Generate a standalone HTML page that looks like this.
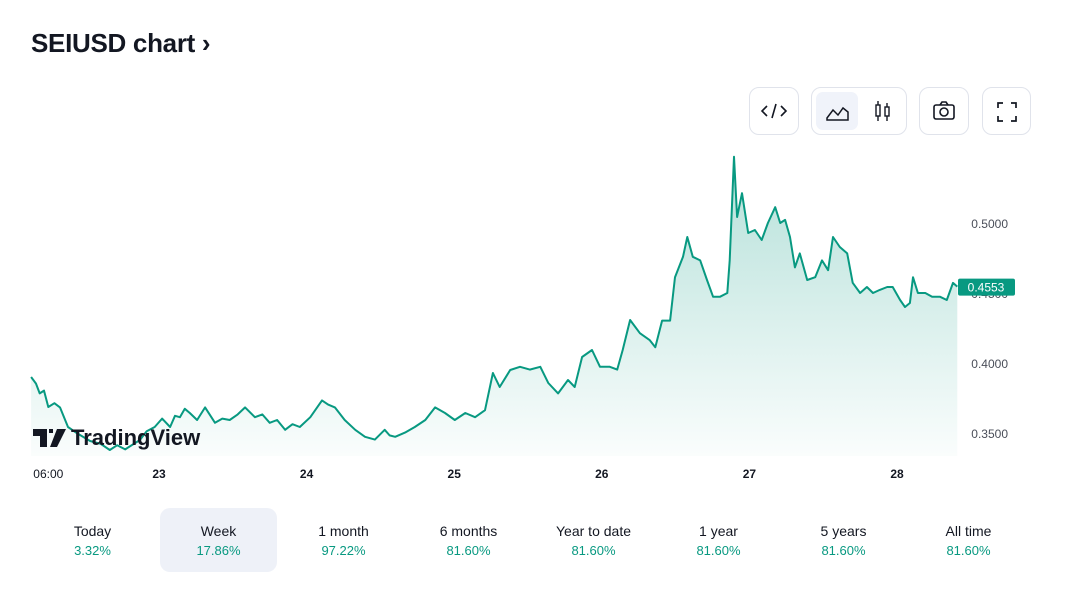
<!DOCTYPE html>
<html><head><meta charset="utf-8">
<style>
body{margin:0;width:1068px;height:601px;background:#fff;font-family:"Liberation Sans",sans-serif;color:#131722;position:relative;overflow:hidden}
.title{position:absolute;left:31px;top:28px;font-size:26px;font-weight:bold;letter-spacing:-0.3px}
.btn{position:absolute;top:87px;height:48px;border:1px solid #e0e3eb;border-radius:10px;box-sizing:border-box;background:#fff}
.tab{position:absolute;top:508px;width:117px;height:64px;border-radius:10px;text-align:center}
.tab .l{margin-top:15px;font-size:14px;color:#131722}
.tab .p{margin-top:4px;font-size:13px;color:#089981}
</style></head><body>
<div class="title">SEIUSD chart ›</div>
<div class="btn" style="left:749px;width:50px">
<svg width="48" height="46"><path d="M17 18l-5 5 5 5M31 18l5 5-5 5M26 16l-4 14" stroke="#131722" stroke-width="1.6" fill="none"/></svg></div>
<div class="btn" style="left:811px;width:96px">
<div style="position:absolute;left:4px;top:4px;width:42px;height:38px;background:#f0f3fa;border-radius:7px">
<svg width="42" height="38"><path d="M11 26l6-8 5 5 5-7 5 4v8H11z" stroke="#131722" stroke-width="1.5" fill="none"/></svg></div>
<div style="position:absolute;left:50px;top:4px;width:42px;height:38px">
<svg width="42" height="38"><rect x="14" y="13" width="4" height="11" stroke="#131722" fill="none" stroke-width="1.4"/><rect x="23" y="15" width="4" height="9" stroke="#131722" fill="none" stroke-width="1.4"/><path d="M16 9v4M16 24v5M25 11v4M25 24v5" stroke="#131722" stroke-width="1.4"/></svg></div></div>
<div class="btn" style="left:919px;width:50px">
<svg width="48" height="46"><rect x="14" y="17" width="20" height="14" rx="2" stroke="#131722" stroke-width="1.6" fill="none"/><circle cx="24" cy="24" r="4" stroke="#131722" stroke-width="1.6" fill="none"/><path d="M20 17l2-3h4l2 3" stroke="#131722" stroke-width="1.6" fill="none"/></svg></div>
<div class="btn" style="left:982px;width:49px">
<svg width="48" height="46"><path d="M15 20v-5h5M28 15h5v5M33 28v5h-5M20 33h-5v-5" stroke="#131722" stroke-width="1.7" fill="none"/></svg></div>

<svg id="chart" style="position:absolute;left:0;top:0" width="1068" height="500">
<defs><linearGradient id="g" x1="0" y1="0" x2="0" y2="1"><stop offset="0" stop-color="#089981" stop-opacity="0.3"/><stop offset="1" stop-color="#089981" stop-opacity="0.02"/></linearGradient></defs>
</svg>
<div style="position:absolute;left:33px;top:425px;display:flex;align-items:center">
<svg width="34" height="18"><path d="M0 0h14v18h-7V7H0z M16 0h4v4h-4z M24 0h9l-9 18h-7z" fill="#131722"/></svg>
<span style="font-size:22px;font-weight:bold;margin-left:4px">TradingView</span></div>

<div class="tab" style="left:34px"><div class="l">Today</div><div class="p">3.32%</div></div>
<div class="tab" style="left:160px;background:#eef1f8"><div class="l">Week</div><div class="p">17.86%</div></div>
<div class="tab" style="left:285px"><div class="l">1 month</div><div class="p">97.22%</div></div>
<div class="tab" style="left:410px"><div class="l">6 months</div><div class="p">81.60%</div></div>
<div class="tab" style="left:535px"><div class="l">Year to date</div><div class="p">81.60%</div></div>
<div class="tab" style="left:660px"><div class="l">1 year</div><div class="p">81.60%</div></div>
<div class="tab" style="left:785px"><div class="l">5 years</div><div class="p">81.60%</div></div>
<div class="tab" style="left:910px"><div class="l">All time</div><div class="p">81.60%</div></div>

<script>
const hours=[3.2,4.0,4.6,5.3,6.0,7.0,7.9,9.2,10.5,12.8,14.5,16.0,17.2,18.5,20.9,22.0,23.3,24.5,25.8,26.6,27.4,28.2,29.0,30.2,31.5,33.1,34.3,35.5,36.8,38.0,39.6,40.8,42.0,43.2,44.5,45.7,46.9,48.6,50.5,51.5,52.6,54.2,55.9,57.5,59.1,60.7,61.5,62.4,64.0,65.6,67.3,68.9,70.5,72.1,73.8,75.4,77.0,78.3,79.4,81.1,82.7,84.3,86.0,87.3,88.9,90.5,91.6,92.8,94.4,95.7,97.3,98.5,99.4,100.6,102.2,103.8,104.7,105.8,107.1,107.9,109.2,109.9,110.8,112.0,113.1,114.1,115.2,116.4,116.8,117.5,118.0,118.8,119.8,120.9,122.0,123.0,124.2,125.0,125.8,126.6,127.4,128.2,129.4,130.7,131.8,132.8,133.6,134.7,135.9,136.8,138.0,139.1,140.1,141.2,142.4,143.3,144.5,145.3,146.1,146.6,147.4,148.6,149.7,151.0,152.1,153.1,153.8];
const prices=[0.3907,0.386,0.379,0.381,0.3693,0.372,0.369,0.355,0.351,0.345,0.343,0.3386,0.342,0.339,0.3457,0.352,0.355,0.361,0.355,0.363,0.362,0.368,0.365,0.360,0.369,0.358,0.361,0.360,0.364,0.369,0.362,0.364,0.358,0.360,0.353,0.357,0.355,0.362,0.374,0.371,0.369,0.360,0.353,0.348,0.346,0.353,0.349,0.348,0.351,0.355,0.360,0.369,0.365,0.360,0.365,0.362,0.367,0.3936,0.3836,0.3957,0.398,0.396,0.398,0.3864,0.379,0.3886,0.3836,0.405,0.410,0.398,0.398,0.396,0.410,0.4314,0.422,0.417,0.412,0.431,0.431,0.462,0.4766,0.4907,0.4766,0.474,0.460,0.448,0.448,0.4507,0.474,0.548,0.505,0.522,0.4936,0.4957,0.4886,0.5007,0.512,0.5007,0.5029,0.4907,0.469,0.479,0.460,0.462,0.474,0.467,0.4907,0.4836,0.479,0.458,0.4507,0.455,0.4507,0.4529,0.455,0.455,0.4457,0.4407,0.4436,0.462,0.4507,0.4507,0.448,0.448,0.4457,0.4579,0.4553];
const yTicks=[0.35,0.40,0.45,0.50];
const xTickHours=[6,24,48,72,96,120,144];
const xTickLabels=["06:00","23","24","25","26","27","28"];
const lastPrice=0.4553;
const NS="http://www.w3.org/2000/svg";
const svg=document.getElementById('chart');
const X=h=>159+(h-24)*6.15;
const Y=v=>224+(0.5-v)*1400;
const bottom=456;
function mk(t,a){const e=document.createElementNS(NS,t);for(const k in a)e.setAttribute(k,a[k]);svg.appendChild(e);return e;}
let d=hours.map((h,i)=>(i?'L':'M')+X(h).toFixed(1)+' '+Y(prices[i]).toFixed(1)).join(' ');
const area=mk('path',{d:d+` L${X(hours[hours.length-1])} ${bottom} L${X(hours[0])} ${bottom} Z`,fill:'url(#g)'});


const line=mk('path',{d:d,fill:'none',stroke:'#089981','stroke-width':2,'stroke-linejoin':'round'});


yTicks.forEach(v=>{const t=mk('text',{x:1008,y:Y(v)+4,'text-anchor':'end','font-size':12,fill:'#4a4e59','font-family':'Liberation Sans'});t.textContent=v.toFixed(4);

});
xTickHours.forEach((h,i)=>{const t=mk('text',{x:i?X(h):X(h)-15,y:478,'text-anchor':i?'middle':'start','font-size':12,fill:'#131722','font-weight':i?'bold':'normal','font-family':'Liberation Sans'});t.textContent=xTickLabels[i];

});
const ly=Y(lastPrice);
const box=mk('rect',{x:958,y:ly-8,width:57,height:17,rx:2,fill:'#089981'});


const lt=mk('text',{x:986,y:ly+5,'text-anchor':'middle','font-size':12,fill:'#fff','font-family':'Liberation Sans'});lt.textContent=lastPrice.toFixed(4);


</script>
</body></html>
